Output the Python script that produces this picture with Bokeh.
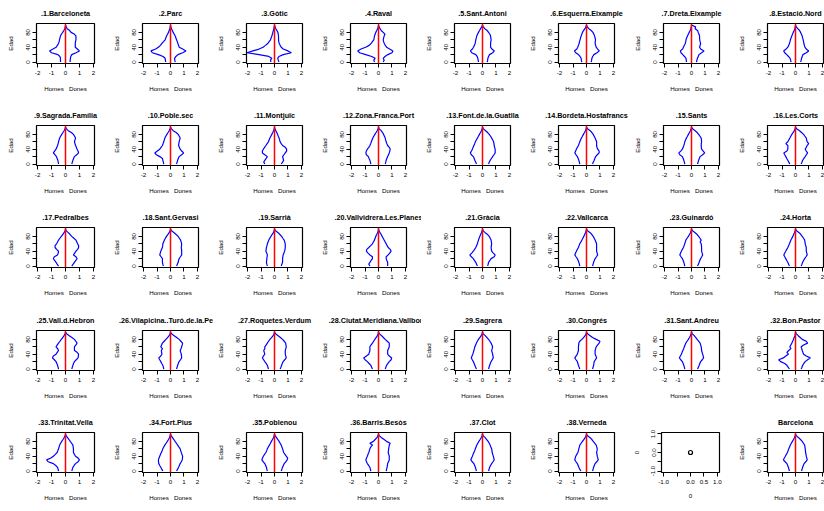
from bokeh.plotting import figure
from bokeh.layouts import column, row
from bokeh.models import Span, FixedTicker, Range1d
from bokeh.embed import file_html
from bokeh.resources import INLINE

# ---------------- data ----------------
ages = [0, 5, 10, 15, 20, 25, 30, 35, 40, 45, 50, 55, 60, 65, 70, 75, 80, 85, 90, 95, 100]

names = [".1.Barceloneta", ".2.Parc", ".3.Gòtic", ".4.Raval", ".5.Sant.Antoni",
         ".6.Esquerra.Eixample", ".7.Dreta.Eixample", ".8.Estació.Nord",
         ".9.Sagrada.Família", ".10.Poble.sec", ".11.Montjuïc", ".12.Zona.Franca.Port",
         ".13.Font.de.la.Guatlla", ".14.Bordeta.Hostafrancs", ".15.Sants", ".16.Les.Corts",
         ".17.Pedralbes", ".18.Sant.Gervasi", ".19.Sarrià", ".20.Vallvidrera.Les.Planes",
         ".21.Gràcia", ".22.Vallcarca", ".23.Guinardó", ".24.Horta",
         ".25.Vall.d.Hebron", ".26.Vilapicina..Turó.de.la.Peira", ".27.Roquetes.Verdum",
         ".28.Ciutat.Meridiana.Vallbona", ".29.Sagrera", ".30.Congrés", ".31.Sant.Andreu",
         ".32.Bon.Pastor", ".33.Trinitat.Vella", ".34.Fort.Pius", ".35.Poblenou",
         ".36.Barris.Besòs", ".37.Clot", ".38.Verneda", "Barcelona"]

h01 = [0.36,0.36,0.36,0.40,0.55,1.00,1.15,0.90,0.67,0.58,0.50,0.46,0.43,0.40,0.36,0.30,0.20,0.12,0.05,0.02,0.0]
d01 = [0.33,0.34,0.35,0.38,0.45,0.75,1.00,0.85,0.70,0.70,0.70,0.72,0.75,0.75,0.75,0.65,0.40,0.30,0.12,0.05,0.0]
h02 = [0.36,0.38,0.40,0.55,0.90,1.35,1.45,1.10,0.90,0.75,0.65,0.52,0.40,0.35,0.30,0.22,0.15,0.10,0.05,0.02,0.0]
d02 = [0.35,0.32,0.30,0.40,0.55,0.90,1.15,0.90,0.65,0.60,0.55,0.50,0.45,0.40,0.35,0.28,0.20,0.14,0.07,0.03,0.0]
h03 = [0.26,0.30,0.20,0.43,1.15,2.05,1.60,1.15,0.85,0.67,0.50,0.40,0.30,0.25,0.20,0.16,0.12,0.08,0.05,0.02,0.0]
d03 = [0.33,0.28,0.24,0.33,0.65,1.25,1.00,0.65,0.50,0.42,0.35,0.32,0.30,0.30,0.30,0.28,0.25,0.18,0.10,0.04,0.0]
h04 = [0.30,0.35,0.25,0.50,0.95,1.40,1.55,1.30,0.95,0.70,0.55,0.45,0.35,0.32,0.30,0.25,0.20,0.13,0.07,0.02,0.0]
d04 = [0.35,0.42,0.35,0.48,0.70,1.00,1.07,0.83,0.60,0.50,0.43,0.38,0.35,0.38,0.42,0.48,0.35,0.20,0.12,0.04,0.0]
h05 = [0.30,0.32,0.35,0.40,0.50,0.80,0.90,0.75,0.67,0.60,0.55,0.52,0.50,0.46,0.43,0.37,0.30,0.22,0.15,0.05,0.0]
d05 = [0.35,0.38,0.40,0.45,0.52,0.76,0.88,0.70,0.60,0.60,0.60,0.62,0.64,0.62,0.60,0.55,0.45,0.35,0.17,0.06,0.0]
h06 = [0.35,0.38,0.40,0.48,0.60,0.80,0.90,0.72,0.65,0.60,0.55,0.52,0.48,0.44,0.40,0.35,0.30,0.22,0.12,0.04,0.0]
d06 = [0.35,0.38,0.40,0.46,0.55,0.78,0.95,0.83,0.72,0.68,0.64,0.65,0.67,0.64,0.60,0.55,0.48,0.36,0.17,0.06,0.0]
h07 = [0.37,0.39,0.41,0.52,0.65,0.78,0.83,0.66,0.60,0.53,0.46,0.43,0.41,0.36,0.30,0.24,0.17,0.10,0.05,0.02,0.0]
d07 = [0.37,0.40,0.44,0.50,0.56,0.75,0.93,0.68,0.60,0.64,0.68,0.64,0.61,0.60,0.60,0.56,0.50,0.45,0.27,0.30,0.0]
h08 = [0.33,0.36,0.40,0.52,0.65,0.80,0.88,0.70,0.57,0.50,0.45,0.41,0.38,0.33,0.28,0.22,0.17,0.10,0.05,0.02,0.0]
d08 = [0.38,0.42,0.45,0.50,0.55,0.80,0.98,0.80,0.70,0.66,0.62,0.60,0.57,0.53,0.50,0.44,0.38,0.30,0.17,0.06,0.0]
h09 = [0.50,0.52,0.55,0.60,0.65,0.75,0.87,0.78,0.68,0.62,0.57,0.53,0.50,0.46,0.42,0.35,0.27,0.18,0.10,0.03,0.0]
d09 = [0.45,0.49,0.53,0.58,0.64,0.80,0.94,0.90,0.83,0.78,0.72,0.68,0.64,0.68,0.72,0.65,0.57,0.42,0.20,0.07,0.0]
h10 = [0.50,0.53,0.57,0.60,0.80,1.05,1.17,0.98,0.80,0.70,0.60,0.55,0.50,0.46,0.42,0.35,0.27,0.18,0.10,0.03,0.0]
d10 = [0.45,0.49,0.53,0.58,0.64,0.83,0.98,0.83,0.72,0.66,0.60,0.62,0.64,0.68,0.72,0.65,0.57,0.42,0.20,0.07,0.0]
h11 = [0.72,0.80,0.72,0.62,0.53,0.72,0.90,0.90,0.83,0.74,0.64,0.55,0.45,0.40,0.34,0.27,0.20,0.13,0.07,0.02,0.0]
d11 = [0.50,0.60,0.68,0.64,0.60,0.70,0.80,0.90,0.90,0.80,0.60,0.50,0.42,0.38,0.34,0.28,0.23,0.17,0.10,0.03,0.0]
h12 = [0.57,0.60,0.64,0.70,0.75,0.90,0.94,0.90,0.83,0.72,0.64,0.58,0.53,0.48,0.42,0.35,0.27,0.18,0.10,0.03,0.0]
d12 = [0.50,0.54,0.57,0.62,0.68,0.74,0.80,0.84,0.87,0.80,0.68,0.62,0.57,0.53,0.50,0.44,0.38,0.30,0.20,0.06,0.0]
h13 = [0.45,0.50,0.57,0.62,0.68,0.83,0.90,0.82,0.75,0.70,0.64,0.58,0.53,0.46,0.38,0.30,0.23,0.15,0.08,0.03,0.0]
d13 = [0.45,0.50,0.57,0.66,0.75,0.85,0.94,0.94,0.94,0.90,0.87,0.85,0.83,0.76,0.68,0.60,0.50,0.38,0.23,0.07,0.0]
h14 = [0.50,0.53,0.57,0.62,0.68,0.78,0.87,0.81,0.75,0.68,0.60,0.55,0.50,0.44,0.38,0.30,0.23,0.15,0.08,0.03,0.0]
d14 = [0.45,0.50,0.57,0.62,0.68,0.80,0.94,0.94,0.83,0.78,0.75,0.75,0.75,0.70,0.64,0.57,0.50,0.40,0.27,0.08,0.0]
h15 = [0.50,0.53,0.57,0.62,0.68,0.87,0.94,0.80,0.68,0.62,0.57,0.53,0.50,0.44,0.38,0.30,0.23,0.15,0.08,0.03,0.0]
d15 = [0.45,0.49,0.53,0.58,0.64,0.83,0.98,0.87,0.75,0.73,0.72,0.73,0.75,0.74,0.72,0.63,0.53,0.42,0.27,0.08,0.0]
h16 = [0.42,0.50,0.57,0.65,0.72,0.80,0.87,0.64,0.57,0.57,0.57,0.72,0.57,0.50,0.42,0.35,0.27,0.18,0.08,0.03,0.0]
d16 = [0.42,0.48,0.53,0.62,0.72,0.80,0.90,0.80,0.72,0.80,0.87,0.98,0.87,0.83,0.80,0.70,0.60,0.45,0.30,0.08,0.0]
h17 = [0.50,0.60,0.68,0.78,0.87,0.80,0.57,0.52,0.50,0.64,0.75,0.75,0.64,0.57,0.50,0.40,0.30,0.20,0.10,0.03,0.0]
d17 = [0.45,0.55,0.64,0.74,0.83,0.75,0.57,0.66,0.75,0.87,0.94,0.94,0.87,0.81,0.75,0.60,0.45,0.33,0.20,0.06,0.0]
h18 = [0.53,0.57,0.60,0.60,0.60,0.70,0.80,0.76,0.72,0.66,0.60,0.58,0.57,0.51,0.45,0.38,0.30,0.20,0.10,0.03,0.0]
d18 = [0.45,0.51,0.57,0.60,0.64,0.74,0.83,0.83,0.83,0.82,0.80,0.82,0.83,0.79,0.75,0.66,0.57,0.42,0.27,0.08,0.0]
h19 = [0.53,0.57,0.60,0.58,0.57,0.55,0.53,0.58,0.64,0.62,0.60,0.56,0.53,0.48,0.42,0.35,0.27,0.18,0.08,0.03,0.0]
d19 = [0.50,0.55,0.60,0.60,0.60,0.62,0.64,0.70,0.75,0.78,0.80,0.80,0.80,0.76,0.72,0.62,0.53,0.40,0.27,0.08,0.0]
h20 = [0.64,0.72,0.64,0.55,0.45,0.45,0.64,0.78,0.90,0.87,0.72,0.58,0.45,0.38,0.30,0.25,0.20,0.13,0.07,0.02,0.0]
d20 = [0.68,0.68,0.68,0.62,0.57,0.57,0.72,0.83,0.94,0.87,0.72,0.64,0.57,0.50,0.42,0.35,0.27,0.20,0.12,0.04,0.0]
h21 = [0.38,0.44,0.50,0.60,0.68,0.83,0.94,0.80,0.68,0.59,0.50,0.44,0.38,0.34,0.30,0.25,0.20,0.14,0.08,0.03,0.0]
d21 = [0.38,0.42,0.45,0.55,0.64,0.87,0.94,0.80,0.68,0.66,0.64,0.66,0.68,0.66,0.64,0.57,0.50,0.38,0.20,0.06,0.0]
h22 = [0.50,0.53,0.57,0.62,0.68,0.78,0.87,0.81,0.75,0.68,0.60,0.55,0.50,0.42,0.34,0.27,0.20,0.14,0.08,0.03,0.0]
d22 = [0.45,0.49,0.53,0.58,0.64,0.74,0.83,0.79,0.75,0.75,0.75,0.75,0.75,0.70,0.64,0.57,0.50,0.40,0.27,0.08,0.0]
h23 = [0.50,0.53,0.57,0.62,0.68,0.78,0.87,0.81,0.75,0.68,0.60,0.55,0.50,0.46,0.42,0.33,0.23,0.15,0.08,0.03,0.0]
d23 = [0.45,0.51,0.57,0.62,0.68,0.76,0.83,0.79,0.75,0.75,0.75,0.74,0.72,0.64,0.72,0.63,0.53,0.42,0.27,0.08,0.0]
h24 = [0.45,0.51,0.57,0.65,0.72,0.80,0.87,0.80,0.72,0.65,0.57,0.51,0.45,0.40,0.34,0.27,0.20,0.14,0.08,0.03,0.0]
d24 = [0.42,0.48,0.53,0.60,0.68,0.78,0.87,0.84,0.80,0.80,0.80,0.76,0.72,0.70,0.68,0.60,0.50,0.40,0.27,0.08,0.0]
h25 = [0.50,0.53,0.57,0.62,0.68,0.80,0.94,0.87,0.68,0.59,0.50,0.57,0.68,0.59,0.50,0.40,0.30,0.20,0.10,0.03,0.0]
d25 = [0.45,0.49,0.53,0.58,0.64,0.77,0.90,0.92,0.94,0.83,0.64,0.64,0.64,0.75,0.83,0.74,0.64,0.46,0.27,0.08,0.0]
h26 = [0.50,0.53,0.57,0.65,0.72,0.80,0.87,0.72,0.64,0.66,0.68,0.60,0.72,0.66,0.60,0.47,0.34,0.22,0.10,0.03,0.0]
d26 = [0.45,0.49,0.53,0.58,0.64,0.74,0.83,0.82,0.80,0.76,0.72,0.78,0.83,0.87,0.90,0.77,0.64,0.46,0.27,0.08,0.0]
h27 = [0.45,0.49,0.53,0.62,0.72,0.81,0.90,0.83,0.72,0.76,0.80,0.72,0.72,0.62,0.53,0.44,0.34,0.22,0.10,0.03,0.0]
d27 = [0.42,0.48,0.53,0.58,0.64,0.76,0.87,0.84,0.80,0.80,0.80,0.84,0.87,0.85,0.83,0.72,0.60,0.44,0.27,0.08,0.0]
h28 = [0.45,0.51,0.57,0.70,0.83,1.00,1.10,0.90,0.72,0.68,0.64,0.64,0.64,0.55,0.45,0.36,0.27,0.18,0.08,0.03,0.0]
d28 = [0.50,0.55,0.60,0.70,0.80,0.94,0.98,0.80,0.68,0.68,0.68,0.74,0.80,0.80,0.80,0.65,0.50,0.36,0.23,0.07,0.0]
h29 = [0.45,0.51,0.57,0.62,0.68,0.76,0.83,0.78,0.72,0.68,0.64,0.60,0.57,0.51,0.45,0.38,0.30,0.20,0.10,0.03,0.0]
d29 = [0.45,0.49,0.53,0.58,0.64,0.72,0.80,0.78,0.75,0.72,0.68,0.72,0.75,0.70,0.64,0.55,0.45,0.33,0.20,0.06,0.0]
h30 = [0.50,0.55,0.60,0.64,0.68,0.78,0.87,0.78,0.68,0.64,0.60,0.60,0.60,0.58,0.57,0.50,0.34,0.22,0.10,0.03,0.0]
d30 = [0.45,0.49,0.53,0.55,0.57,0.66,0.75,0.70,0.64,0.64,0.64,0.68,0.72,0.83,0.94,1.00,0.72,0.45,0.27,0.08,0.0]
h31 = [0.50,0.53,0.57,0.62,0.68,0.80,0.90,0.83,0.75,0.70,0.64,0.58,0.53,0.48,0.42,0.33,0.23,0.15,0.08,0.03,0.0]
d31 = [0.45,0.51,0.57,0.62,0.68,0.80,0.90,0.87,0.83,0.79,0.75,0.74,0.72,0.68,0.64,0.53,0.42,0.32,0.20,0.06,0.0]
h32 = [0.45,0.55,0.64,0.80,1.10,1.25,0.90,0.72,0.53,0.64,0.50,0.34,0.42,0.35,0.27,0.21,0.15,0.10,0.04,0.02,0.0]
d32 = [0.42,0.48,0.53,0.62,0.72,0.90,1.10,0.80,0.60,0.55,0.50,0.46,0.42,0.60,0.90,0.80,0.50,0.35,0.20,0.06,0.0]
h33 = [0.50,0.53,0.57,0.70,0.87,1.25,1.35,1.05,0.87,0.73,0.60,0.55,0.50,0.46,0.42,0.35,0.27,0.18,0.10,0.03,0.0]
d33 = [0.45,0.49,0.53,0.62,0.72,0.90,1.00,0.90,0.72,0.64,0.57,0.57,0.57,0.55,0.53,0.44,0.34,0.25,0.15,0.05,0.0]
h34 = [0.57,0.65,0.72,0.80,0.87,0.89,0.90,0.85,0.80,0.74,0.68,0.62,0.57,0.50,0.42,0.33,0.23,0.15,0.08,0.03,0.0]
d34 = [0.45,0.53,0.60,0.66,0.72,0.80,0.87,0.89,0.90,0.85,0.80,0.76,0.72,0.62,0.53,0.44,0.34,0.25,0.15,0.05,0.0]
h35 = [0.53,0.57,0.60,0.66,0.72,0.83,0.94,0.89,0.83,0.74,0.64,0.58,0.53,0.46,0.38,0.30,0.23,0.15,0.08,0.03,0.0]
d35 = [0.50,0.55,0.60,0.66,0.72,0.83,0.94,0.98,0.87,0.78,0.68,0.64,0.60,0.55,0.50,0.42,0.34,0.25,0.15,0.05,0.0]
h36 = [0.57,0.60,0.64,0.73,0.83,0.89,0.94,0.89,0.83,0.78,0.72,0.68,0.64,0.57,0.45,0.64,0.38,0.25,0.12,0.04,0.0]
d36 = [0.57,0.60,0.64,0.66,0.68,0.74,0.80,0.80,0.80,0.76,0.72,0.74,0.75,0.78,0.80,0.87,0.60,0.42,0.23,0.07,0.0]
h37 = [0.45,0.49,0.53,0.58,0.64,0.76,0.87,0.81,0.75,0.70,0.64,0.58,0.53,0.48,0.42,0.35,0.27,0.18,0.10,0.03,0.0]
d37 = [0.45,0.49,0.53,0.60,0.68,0.78,0.87,0.84,0.80,0.76,0.72,0.70,0.68,0.62,0.57,0.50,0.42,0.31,0.20,0.06,0.0]
h38 = [0.42,0.50,0.57,0.62,0.68,0.78,0.87,0.84,0.80,0.72,0.64,0.60,0.57,0.53,0.50,0.40,0.30,0.20,0.10,0.03,0.0]
d38 = [0.45,0.49,0.53,0.58,0.64,0.76,0.87,0.84,0.80,0.78,0.75,0.78,0.80,0.76,0.72,0.61,0.50,0.40,0.27,0.08,0.0]
hbcn = [0.45,0.49,0.53,0.58,0.64,0.77,0.90,0.83,0.75,0.68,0.60,0.55,0.50,0.44,0.38,0.31,0.23,0.15,0.08,0.03,0.0]
dbcn = [0.45,0.49,0.53,0.58,0.64,0.76,0.87,0.84,0.80,0.78,0.75,0.74,0.72,0.70,0.68,0.59,0.50,0.37,0.23,0.07,0.0]

homes = [h01, h02, h03, h04, h05, h06, h07, h08, h09, h10, h11, h12, h13, h14, h15, h16,
         h17, h18, h19, h20, h21, h22, h23, h24, h25, h26, h27, h28, h29, h30, h31, h32,
         h33, h34, h35, h36, h37, h38, hbcn]
dones = [d01, d02, d03, d04, d05, d06, d07, d08, d09, d10, d11, d12, d13, d14, d15, d16,
         d17, d18, d19, d20, d21, d22, d23, d24, d25, d26, d27, d28, d29, d30, d31, d32,
         d33, d34, d35, d36, d37, d38, dbcn]

x_ticks = [-2, -1, 0, 1, 2]
y_ticks = [0, 20, 40, 60, 80]
empty_ticks = [-1, -0.5, 0, 0.5, 1]
xlab = "Homes\u00a0\u00a0\u00a0Dones"

# ---------------- layout geometry ----------------
FONT = "Liberation Sans"
NCOL, NROW = 8, 5
TOTAL_W, TOTAL_H = 824, 511
BOXW, BOXH = 58, 40
box_left = [36 + round(104.1 * c) for c in range(NCOL)]
col_x = [0] + [b - 31 for b in box_left[1:]] + [TOTAL_W]
box_top = [23 + round(102.2 * r) for r in range(NROW)]
row_y = [b - 23 for b in box_top] + [TOTAL_H]


def base_fig(c, r, xr, yr, title):
    W = col_x[c + 1] - col_x[c]
    H = row_y[r + 1] - row_y[r]
    L = box_left[c] - col_x[c]
    T = box_top[r] - row_y[r]
    p = figure(width=W, height=H, x_range=xr, y_range=yr,
               output_backend="svg", toolbar_location=None,
               min_border_left=L, min_border_right=max(W - L - BOXW, 0),
               min_border_top=T, min_border_bottom=H - T - BOXH)
    p.grid.visible = False
    p.outline_line_color = "black"
    p.outline_line_width = 1.2
    p.outline_line_alpha = 1
    p.background_fill_color = "white"
    p.border_fill_color = "white"
    if title:
        p.title.text = title
        p.title.align = "center"
        p.title.text_font = FONT
        p.title.text_font_size = "7.2px"
        p.title.text_font_style = "bold"
        p.title.text_color = "black"
        p.title.standoff = 11
    for ax in (p.xaxis[0], p.yaxis[0]):
        ax.axis_line_color = None
        ax.minor_tick_line_color = None
        ax.major_tick_in = 0
        ax.major_tick_out = 4
        ax.major_tick_line_color = "black"
        ax.major_label_text_font = FONT
        ax.major_label_text_font_size = "6.2px"
        ax.major_label_text_color = "black"
        ax.axis_label_text_font = FONT
        ax.axis_label_text_font_size = "6.2px"
        ax.axis_label_text_font_style = "normal"
        ax.axis_label_text_color = "black"
    p.xaxis.major_label_standoff = 3
    p.xaxis.axis_label_standoff = 7
    p.yaxis.major_label_standoff = 2
    p.yaxis.axis_label_standoff = 10
    p.yaxis.major_label_orientation = "parallel"
    return p


figs = []
for i in range(NROW * NCOL):
    r, c = divmod(i, NCOL)
    if i == 38:
        p = base_fig(c, r, Range1d(-1.08, 1.08), Range1d(-1.08, 1.08), None)
        p.xaxis.ticker = FixedTicker(ticks=empty_ticks)
        p.yaxis.ticker = FixedTicker(ticks=empty_ticks)
        p.xaxis.major_label_overrides = {-1: "-1.0", -0.5: "", 0: "0.0", 0.5: "0.5", 1: "1.0"}
        p.yaxis.major_label_overrides = {-1: "-1.0", -0.5: "", 0: "0.0", 0.5: "", 1: "1.0"}
        p.xaxis.axis_label = "0"
        p.yaxis.axis_label = "0"
        p.scatter([0], [0], marker="circle", size=4, fill_color=None,
                  line_color="black", line_width=1.2)
    else:
        k = i if i < 38 else 38
        p = base_fig(c, r, Range1d(-2.08, 2.08), Range1d(-4, 104), names[k])
        p.xaxis.ticker = FixedTicker(ticks=x_ticks)
        p.yaxis.ticker = FixedTicker(ticks=y_ticks)
        p.xaxis.major_label_overrides = {t: str(t) for t in x_ticks}
        p.yaxis.major_label_overrides = {0: "0", 20: "", 40: "40", 60: "", 80: "80"}
        p.xaxis.axis_label = xlab
        p.yaxis.axis_label = "Edad"
        hm, dn = homes[k], dones[k]
        xs = [-v for v in hm] + list(reversed(dn))
        ys = list(ages) + list(reversed(ages))
        p.line(xs, ys, line_color="blue", line_width=1.2)
        p.add_layout(Span(location=0, dimension="height", line_color="red",
                          line_width=1.5))
    figs.append(p)

layout = column([row(figs[r * NCOL:(r + 1) * NCOL], spacing=0) for r in range(NROW)], spacing=0)

open("out.html", "w").write(file_html(layout, INLINE))
